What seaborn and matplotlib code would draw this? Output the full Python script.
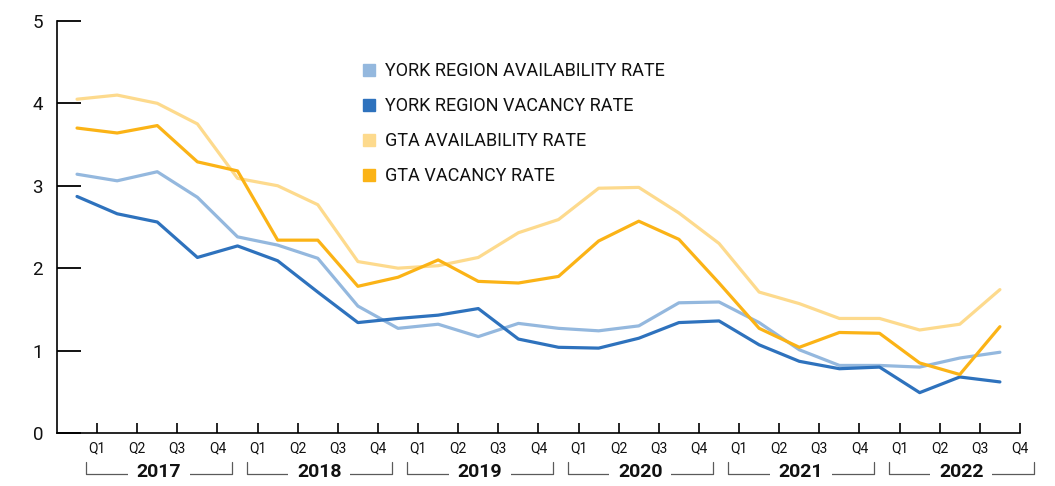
import matplotlib
matplotlib.use("Agg")
import matplotlib.pyplot as plt
import matplotlib.transforms as mtransforms
from matplotlib.lines import Line2D
import seaborn as sns
import numpy as np
import pandas as pd

# quarterly rates, Q1 2017 .. Q4 2022
years = ["2017", "2018", "2019", "2020", "2021", "2022"]
quarters = ["Q1", "Q2", "Q3", "Q4"]

york_availability = [3.14, 3.06, 3.17, 2.86, 2.38, 2.28, 2.12, 1.54, 1.27, 1.32, 1.17, 1.33,
                     1.27, 1.24, 1.30, 1.58, 1.59, 1.34, 1.01, 0.82, 0.82, 0.80, 0.91, 0.98]
york_vacancy = [2.87, 2.66, 2.56, 2.13, 2.27, 2.09, 1.71, 1.34, 1.39, 1.43, 1.51, 1.14,
                1.04, 1.03, 1.15, 1.34, 1.36, 1.07, 0.87, 0.78, 0.80, 0.49, 0.68, 0.62]
gta_availability = [4.05, 4.10, 4.00, 3.75, 3.09, 3.00, 2.77, 2.08, 2.00, 2.03, 2.13, 2.43,
                    2.59, 2.97, 2.98, 2.67, 2.30, 1.71, 1.57, 1.39, 1.39, 1.25, 1.32, 1.74]
gta_vacancy = [3.70, 3.64, 3.73, 3.29, 3.18, 2.34, 2.34, 1.78, 1.89, 2.10, 1.84, 1.82,
               1.90, 2.33, 2.57, 2.35, 1.82, 1.27, 1.04, 1.22, 1.21, 0.85, 0.71, 1.29]

series_names = ["YORK REGION AVAILABILITY RATE", "YORK REGION VACANCY RATE",
                "GTA AVAILABILITY RATE", "GTA VACANCY RATE"]
colors = ["#94b8de", "#2e72bd", "#fdda8d", "#fbb316"]

sns.set_style("white")
plt.rcParams["font.family"] = ["Roboto", "DejaVu Sans"]
plt.rcParams["xtick.bottom"] = True
plt.rcParams["ytick.left"] = True

n = len(york_availability)
pos = np.arange(n) + 0.5  # points sit between the quarter ticks

frames = []
for name, vals in zip(series_names, [york_availability, york_vacancy, gta_availability, gta_vacancy]):
    frames.append(pd.DataFrame({"x": pos, "rate": vals, "series": name}))
df = pd.concat(frames, ignore_index=True)

fig = plt.figure(figsize=(10.55, 4.86), dpi=100)
ax = fig.add_axes([0.054, 0.109, 0.9128, 0.848])

sns.lineplot(data=df, x="x", y="rate", hue="series", hue_order=series_names,
             palette=colors, linewidth=2.3, legend=False, ax=ax)

ax.set_xlim(0, n)
ax.set_ylim(0, 5)
ax.set_xlabel("")
ax.set_ylabel("")

ax.set_yticks(range(0, 6))
ax.set_yticklabels([str(v) for v in range(0, 6)], fontsize=13.5, color="#111111")
ax.set_xticks(np.arange(1, n + 1))
ax.set_xticklabels(quarters * len(years), fontsize=10, color="#111111")
ax.tick_params(axis="y", direction="in", length=17, width=1.3, pad=10, color="black")
ax.tick_params(axis="x", direction="in", length=7, width=1.2, pad=6, color="black")

for side in ["top", "right"]:
    ax.spines[side].set_visible(False)
for side in ["left", "bottom"]:
    ax.spines[side].set_color("black")
    ax.spines[side].set_linewidth(1.2)
ax.grid(False)

# year brackets under the quarter labels
trans = mtransforms.blended_transform_factory(ax.transData, ax.transAxes)
y_top, y_bot = -0.07, -0.1
for k, yr in enumerate(years):
    left = 4 * k + 0.73
    right = 4 * k + 4.35
    ax.plot([left, left, right, right], [y_top, y_bot, y_bot, y_top], color="#5a5a5a",
            linewidth=0.9, transform=trans, clip_on=False)
    ax.text((left + right) / 2, y_bot + 0.006, yr, transform=trans, ha="center", va="center",
            fontsize=14, fontweight="bold", color="#111111",
            bbox=dict(boxstyle="square,pad=0.45", facecolor="white", edgecolor="none"))

handles = [Line2D([0], [0], marker="s", linestyle="none", markersize=8,
                  markerfacecolor=c, markeredgecolor=c) for c in colors]
ax.legend(handles, series_names, loc="upper left", bbox_to_anchor=(0.298, 0.94),
          frameon=False, fontsize=13, handletextpad=0.35, labelspacing=0.95,
          handlelength=1.0, labelcolor="#111111")

plt.savefig("out.png", dpi=100)
